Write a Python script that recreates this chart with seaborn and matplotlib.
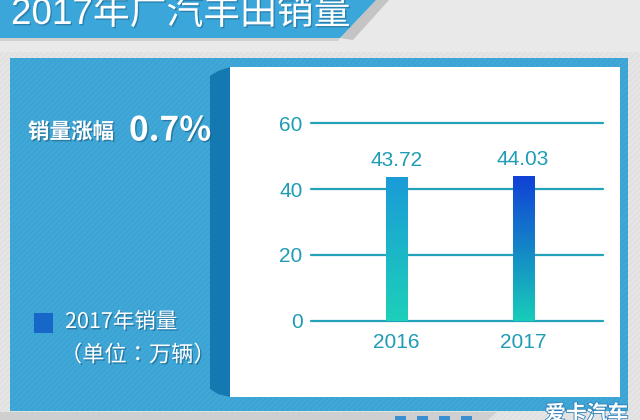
import numpy as np
import pandas as pd
import matplotlib
matplotlib.use("Agg")
import matplotlib.pyplot as plt
import matplotlib.patheffects as pe
from matplotlib.patches import Polygon, Rectangle
from matplotlib.colors import LinearSegmentedColormap
import seaborn as sns

# ---- data ----
years = ["2016", "2017"]
sales = [43.72, 44.03]
value_labels = ["43.72", "44.03"]
yticks = [0, 20, 40, 60]
title = "2017年广汽丰田销量"
growth_caption = "销量涨幅"
growth_value = "0.7%"
legend_label = "2017年销量"
unit_label = "（单位：万辆）"
watermark = "爱卡汽车"
bar_grad = [("#1dd0b9", "#1a9bd8"), ("#18cdb9", "#1040d6")]

sns.set_theme(style="white")
plt.rcParams["font.family"] = ["Liberation Sans", "Noto Sans CJK SC", "DejaVu Sans"]
CJK = ["Noto Sans CJK SC", "DejaVu Sans"]
MIX = ["Liberation Sans", "Noto Sans CJK SC", "DejaVu Sans"]

W, H = 640, 420
fig = plt.figure(figsize=(6.4, 4.2), dpi=100)
fig.patch.set_facecolor("#e6e6e6")

bg = fig.add_axes([0, 0, 1, 1])
bg.set_xlim(0, W)
bg.set_ylim(H, 0)
bg.axis("off")

plt.rcParams["hatch.linewidth"] = 0.6
# background texture
bg.add_patch(Rectangle((0, 0), W, H, facecolor="#e5e5e5", edgecolor="#dcdcdc",
                       hatch="//////", lw=0, zorder=0))
bg.add_patch(Rectangle((0, 0), W, 52, facecolor="#e9e9e9", lw=0, zorder=0.5))
# bottom light stripe with dashes
bg.add_patch(Polygon([(0, 412), (497, 412), (488, 420), (0, 420)],
                     facecolor="#cfcfcf", lw=0, zorder=1))
for xd in [395, 417, 439, 461]:
    bg.add_patch(Rectangle((xd, 416), 11, 5, facecolor="#3a8fd0", lw=0, zorder=1.2))

# title banner
bg.add_patch(Polygon([(376, 0), (389, 0), (353, 40), (340, 38)],
                     facecolor="#c4c4c4", lw=0, zorder=1))
bg.add_patch(Polygon([(0, 38), (340, 38), (338, 41), (0, 41)],
                     facecolor="#cfcfcf", lw=0, zorder=1))
bg.add_patch(Polygon([(0, 0), (376, 0), (340, 38), (0, 38)],
                     facecolor="#3ba6da", lw=0, zorder=2))
bg.text(11, 24, title, color="white", fontsize=26.5, family=MIX,
        va="baseline", ha="left", zorder=3,
        path_effects=[pe.withSimplePatchShadow(offset=(1, -1), shadow_rgbFace="#1b5f86", alpha=0.5)])

# main blue panel
bg.add_patch(Rectangle((10, 58), 618, 353, facecolor="#3ca4d4", edgecolor="#47acda",
                       hatch="//////", lw=0, zorder=2))
# dark side
bg.add_patch(Polygon([(210, 76), (218, 71), (230, 67), (230, 397), (218, 394), (210, 389)],
                     facecolor="#1479b1", lw=0, zorder=3))
# white panel
bg.add_patch(Rectangle((230, 67), 390, 330, facecolor="white", lw=0, zorder=3))

shadow = [pe.withSimplePatchShadow(offset=(1, -1), shadow_rgbFace="#1a5a80", alpha=0.6)]
bg.text(28, 132, growth_caption, color="white", fontsize=15.5, fontweight="bold",
        family=CJK, va="center", ha="left", zorder=4, path_effects=shadow)
bg.text(129, 131, growth_value, color="white", fontsize=24, fontweight="bold",
        family=CJK, va="center", ha="left", zorder=4, path_effects=shadow)
bg.add_patch(Rectangle((34, 313), 19, 20, facecolor="#1767c9", lw=0, zorder=4))
bg.text(65, 322, legend_label, color="white", fontsize=15.5, family=CJK,
        va="center", ha="left", zorder=4, path_effects=shadow)
bg.text(60, 355, unit_label, color="white", fontsize=16, family=["Noto Sans CJK TC", "DejaVu Sans"],
        va="center", ha="left", zorder=4, path_effects=shadow)
bg.text(545, 403, watermark, color="white", fontsize=15, fontweight="bold",
        family=CJK, va="top", ha="left", zorder=4,
        path_effects=[pe.withStroke(linewidth=1.2, foreground="#2a7fb8")])

# ---- chart ----
x0, x1 = 311, 603
y_top, y_zero = 123.3, 320.7
ax = fig.add_axes([x0 / W, 1 - y_zero / H, (x1 - x0) / W, (y_zero - y_top) / H])
ax.patch.set_alpha(0)
df = pd.DataFrame({"year": years, "sales": sales})
sns.barplot(data=df, x="year", y="sales", ax=ax, width=0.166, color="white",
            saturation=1, edgecolor="none", linewidth=0)

xlim = (-0.676, 1.632)
ylim = (0, 60)
grad = np.linspace(0, 1, 256).reshape(-1, 1)
for patch, (c0, c1) in zip(ax.patches, bar_grad):
    bx, by = patch.get_x(), patch.get_y()
    bw, bh = patch.get_width(), patch.get_height()
    cmap = LinearSegmentedColormap.from_list("g", [c0, c1])
    im = ax.imshow(grad, extent=[bx, bx + bw, by, by + bh], origin="lower",
                   aspect="auto", cmap=cmap, zorder=3)
    im.set_clip_path(patch)
    patch.set_facecolor("none")

for i, lab in enumerate(value_labels):
    ax.annotate(lab, (i, sales[i]), xytext=(0, 5), textcoords="offset points",
                ha="center", va="bottom", fontsize=15, color="#1e9db4", zorder=5)

ax.set_xlim(*xlim)
ax.set_ylim(*ylim)
ax.set_yticks(yticks)
ax.set_yticklabels([str(t) for t in yticks])
ax.set_xlabel("")
ax.set_ylabel("")
for s in ax.spines.values():
    s.set_visible(False)
ax.yaxis.grid(True, color="#23a2b9", linewidth=1.6)
ax.xaxis.grid(False)
ax.set_axisbelow(True)
for gl in ax.get_ygridlines():
    gl.set_clip_on(False)
ax.tick_params(axis="both", length=0, labelsize=15, colors="#1e9db4")
ax.tick_params(axis="y", pad=6)
ax.tick_params(axis="x", pad=9)

fig.savefig("out.png", dpi=100)
